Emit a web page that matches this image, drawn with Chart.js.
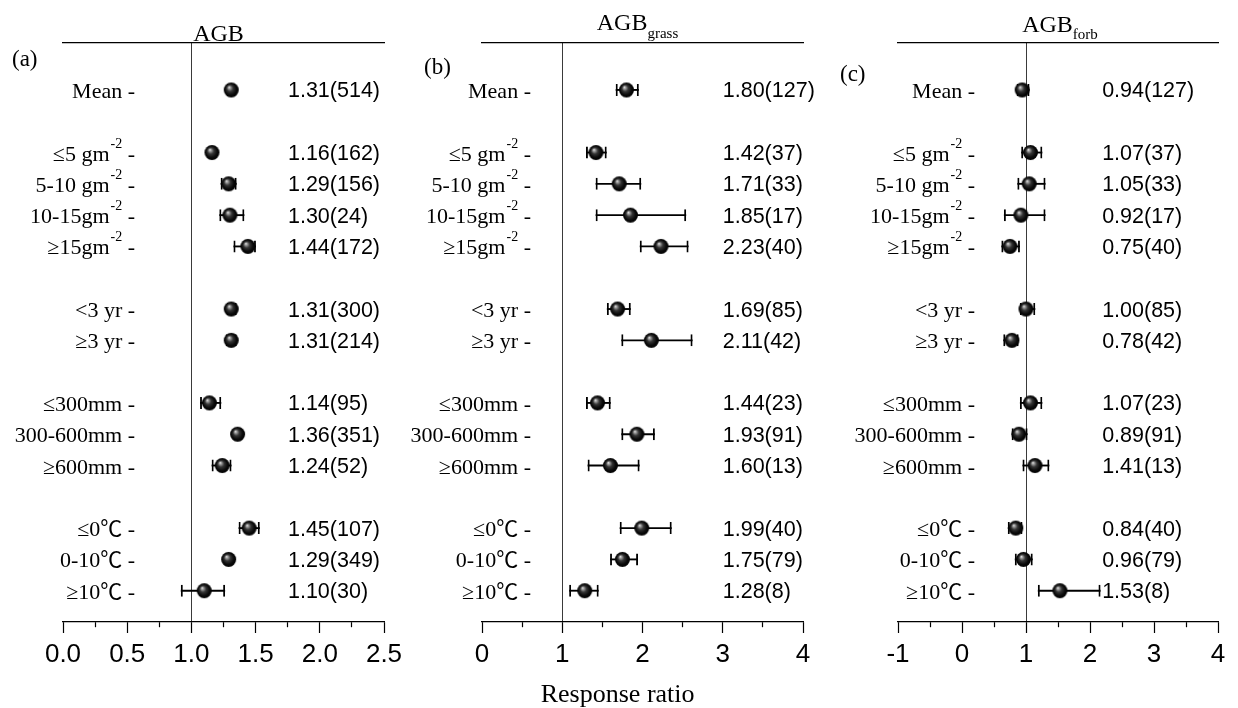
<!DOCTYPE html>
<html>
<head>
<meta charset="utf-8">
<script src="https://cdn.jsdelivr.net/npm/chart.js@4.4.0/dist/chart.umd.min.js"></script>
<style>
html,body{margin:0;padding:0;background:#fff;overflow:hidden;}
#wrap{position:relative;width:1238px;height:708px;background:#fff;}
.panel{position:absolute;top:0;height:708px;}
</style>
</head>
<body>
<div id="wrap">
  <div class="panel" style="left:0px;width:420px"><canvas id="cA"></canvas></div>
  <div class="panel" style="left:395px;width:440px"><canvas id="cB"></canvas></div>
  <div class="panel" style="left:825px;width:413px"><canvas id="cC"></canvas></div>
</div>
<script>
// ---------- categories (blank entries separate the groups) ----------
const rowLabels = ['Mean', '', '≤5 gm^-2', '5-10 gm^-2', '10-15gm^-2', '≥15gm^-2', '',
                   '<3 yr', '≥3 yr', '', '≤300mm', '300-600mm', '≥600mm', '',
                   '≤0℃', '0-10℃', '≥10℃'];

// ---------- panel (a) AGB ----------
const agbRR   = [1.31, 1.16, 1.29, 1.30, 1.44, 1.31, 1.31, 1.14, 1.36, 1.24, 1.45, 1.29, 1.10];
const agbLow  = [1.28, 1.13, 1.23, 1.22, 1.33, 1.28, 1.27, 1.07, 1.33, 1.16, 1.37, 1.26, 0.92];
const agbHigh = [1.34, 1.19, 1.35, 1.41, 1.50, 1.35, 1.35, 1.23, 1.39, 1.31, 1.53, 1.32, 1.26];
const agbN    = [514, 162, 156, 24, 172, 300, 214, 95, 351, 52, 107, 349, 30];

// ---------- panel (b) AGB grass ----------
const grassRR   = [1.80, 1.42, 1.71, 1.85, 2.23, 1.69, 2.11, 1.44, 1.93, 1.60, 1.99, 1.75, 1.28];
const grassLow  = [1.67, 1.30, 1.42, 1.42, 1.97, 1.56, 1.74, 1.30, 1.74, 1.32, 1.72, 1.60, 1.09];
const grassHigh = [1.95, 1.55, 1.98, 2.54, 2.57, 1.85, 2.62, 1.60, 2.15, 1.96, 2.36, 1.94, 1.45];
const grassN    = [127, 37, 33, 17, 40, 85, 42, 23, 91, 13, 40, 79, 8];

// ---------- panel (c) AGB forb (plotted point vs printed value) ----------
const forbRR      = [0.94, 1.07, 1.05, 0.92, 0.75, 1.00, 0.78, 1.07, 0.89, 1.14, 0.84, 0.96, 1.53];
const forbPrinted = ['0.94', '1.07', '1.05', '0.92', '0.75', '1.00', '0.78', '1.07', '0.89', '1.41', '0.84', '0.96', '1.53'];
const forbLow     = [0.86, 0.93, 0.87, 0.66, 0.62, 0.91, 0.65, 0.91, 0.78, 0.95, 0.72, 0.83, 1.19];
const forbHigh    = [1.05, 1.25, 1.30, 1.30, 0.90, 1.14, 0.88, 1.25, 1.02, 1.36, 0.94, 1.10, 2.16];
const forbN       = [127, 37, 33, 17, 40, 85, 42, 23, 91, 13, 40, 79, 8];

// ---------- x axes: [min, max, major step, minor step, decimals] ----------
const axisA = [0, 2.5, 0.5, 0.25, 1];
const axisB = [0, 4, 1, 0.5, 0];
const axisC = [-1, 4, 1, 0.5, 0];

const titleMain = 'AGB';
const axisTitle = 'Response ratio';

// ---------- styling ----------
const SERIF = '"Liberation Serif","Times New Roman","Noto Sans CJK SC","DejaVu Serif",serif';
const SANS = '"Liberation Sans",Arial,"DejaVu Sans",sans-serif';
Chart.defaults.font.family = SANS;
Chart.defaults.color = '#000';

function makeBall(r) {
  const s = Math.ceil(r * 2) + 2;
  const c = document.createElement('canvas');
  c.width = s; c.height = s;
  const g = c.getContext('2d');
  const cx = s / 2, cy = s / 2;
  const grad = g.createRadialGradient(cx - r * 0.3, cy - r * 0.38, 0, cx, cy, r);
  grad.addColorStop(0, '#f0f0f0');
  grad.addColorStop(0.16, '#a0a0a0');
  grad.addColorStop(0.42, '#353535');
  grad.addColorStop(0.75, '#0a0a0a');
  grad.addColorStop(1, '#000');
  g.fillStyle = grad;
  g.beginPath(); g.arc(cx, cy, r, 0, Math.PI * 2); g.fill();
  return c;
}
const ball = makeBall(7.5);

const dataRows = rowLabels.map((l, i) => i).filter(i => rowLabels[i] !== '');

function textPlugin(p) {
  return {
    id: 'forestText' + p.letter,
    afterDraw(chart) {
      const {ctx, chartArea} = chart;
      const xs = chart.scales.x, ys = chart.scales.y;
      ctx.save();
      ctx.fillStyle = '#000';
      ctx.textBaseline = 'alphabetic';
      ctx.textAlign = 'left';
      const catRight = xs.getPixelForValue(p.catX);
      const valLeft = xs.getPixelForValue(p.valX);
      dataRows.forEach((r, k) => {
        const y = ys.getPixelForValue(r);
        const parts = rowLabels[r].split('^');
        const main = parts[0], sup = parts[1];
        const tail = ' -';
        ctx.font = '22px ' + SERIF;
        const wMain = ctx.measureText(main).width;
        const wTail = ctx.measureText(tail).width;
        ctx.font = '14px ' + SERIF;
        const wSup = sup ? ctx.measureText(sup).width + 1 : 0;
        let x = catRight - wTail - wSup - wMain;
        ctx.font = '22px ' + SERIF;
        ctx.fillText(main, x, y + 8);
        x += wMain;
        if (sup) {
          ctx.font = '14px ' + SERIF;
          ctx.fillText(sup, x + 1, y - 5);
          x += wSup;
        }
        ctx.font = '22px ' + SERIF;
        ctx.fillText(tail, x, y + 8);
        ctx.font = '21.5px ' + SANS;
        ctx.fillText(p.printed[k] + '(' + p.n[k] + ')', valLeft, y + 7.5);
      });
      // panel title
      ctx.font = '24px ' + SERIF;
      const wT = ctx.measureText(titleMain).width;
      ctx.font = '15px ' + SERIF;
      const wS = p.sub ? ctx.measureText(p.sub).width : 0;
      const tx = (chartArea.left + chartArea.right) / 2 + p.titleDx - (wT + wS) / 2;
      ctx.font = '24px ' + SERIF;
      ctx.fillText(titleMain, tx, p.titleY);
      if (p.sub) {
        ctx.font = '15px ' + SERIF;
        ctx.fillText(p.sub, tx + wT, p.subY);
      }
      // panel letter
      ctx.font = '23px ' + SERIF;
      ctx.fillText('(' + p.letter + ')', chartArea.left + p.letterDx, p.letterY);
      // shared axis title
      if (p.axisTitleX !== undefined) {
        ctx.font = '26px ' + SERIF;
        ctx.textAlign = 'center';
        ctx.fillText(axisTitle, xs.getPixelForValue(p.axisTitleX), 702);
      }
      ctx.restore();
    }
  };
}

function buildPanel(id, p) {
  const [min, max, major, minor, dec] = p.axis;
  const isMajor = v => Math.abs(v / major - Math.round(v / major)) < 1e-6;
  const pts = dataRows.map((r, k) => ({x: p.rr[k], y: r}));
  const bars = dataRows.map((r, k) => ({x: [p.low[k], p.high[k]], y: r}));
  new Chart(document.getElementById(id), {
    type: 'scatter',
    data: {
      datasets: [
        {type: 'scatter', data: pts, pointStyle: ball, pointRadius: 7.5, order: 0},
        {type: 'bar', indexAxis: 'y', data: bars, barThickness: 1.2, backgroundColor: '#000',
         borderWidth: 0, grouped: false, order: 2},
        {type: 'bar', indexAxis: 'y', data: bars, barThickness: 12, backgroundColor: 'rgba(0,0,0,0)',
         borderColor: '#000', borderWidth: {left: 1.2, right: 1.2, top: 0, bottom: 0},
         borderSkipped: false, grouped: false, order: 1}
      ]
    },
    options: {
      responsive: true,
      maintainAspectRatio: false,
      animation: false,
      events: [],
      layout: {padding: {left: p.padL, right: p.padR, top: 43, bottom: 0}},
      plugins: {legend: {display: false}, tooltip: {enabled: false}},
      scales: {
        x: {
          type: 'linear', position: 'bottom', min: min, max: max, offset: false,
          ticks: {
            stepSize: minor, autoSkip: false, maxRotation: 0, padding: 6, color: '#000',
            font: {family: SANS, size: 26},
            callback: v => isMajor(v) ? Number(v).toFixed(dec) : ''
          },
          grid: {
            display: true, drawOnChartArea: true, drawTicks: true,
            color: c => (c.tick && Math.abs(c.tick.value - 1) < 1e-9) ? '#3a3a3a' : 'rgba(0,0,0,0)',
            lineWidth: 1, tickColor: '#000', tickWidth: 1.2, tickLength: 11,
            tickBorderDash: c => (c.tick && isMajor(c.tick.value)) ? [] : [5, 60]
          },
          border: {display: true, color: '#000', width: 1.2},
          afterFit: s => { s.height = 86; }
        },
        xTop: {
          type: 'linear', position: 'top', min: min, max: max, offset: false,
          ticks: {display: false},
          grid: {display: true, drawOnChartArea: false, drawTicks: false, color: 'rgba(0,0,0,0)'},
          border: {display: true, color: '#000', width: 1.2},
          afterFit: s => { s.height = 0; }
        },
        y: {type: 'linear', display: false, min: -1.5, max: 17, reverse: true, offset: false}
      }
    },
    plugins: [textPlugin(p)]
  });
}

buildPanel('cA', {
  axis: axisA, rr: agbRR, low: agbLow, high: agbHigh, n: agbN,
  printed: agbRR.map(v => v.toFixed(2)),
  padL: 63, padR: 36, catX: 0.561, valX: 1.752,
  letter: 'a', letterDx: -51, letterY: 66, sub: '', titleDx: -5, titleY: 41, subY: 0
});
buildPanel('cB', {
  axis: axisB, rr: grassRR, low: grassLow, high: grassHigh, n: grassN,
  printed: grassRR.map(v => v.toFixed(2)),
  padL: 87, padR: 32, catX: 0.61, valX: 3.0,
  letter: 'b', letterDx: -58, letterY: 74, sub: 'grass', titleDx: -5, titleY: 29.5, subY: 37.5,
  axisTitleX: 1.69
});
buildPanel('cC', {
  axis: axisC, rr: forbRR, low: forbLow, high: forbHigh, n: forbN,
  printed: forbPrinted,
  padL: 73, padR: 20, catX: 0.203, valX: 2.19,
  letter: 'c', letterDx: -58, letterY: 81, sub: 'forb', titleDx: 2, titleY: 31.5, subY: 39
});
</script>
</body>
</html>
